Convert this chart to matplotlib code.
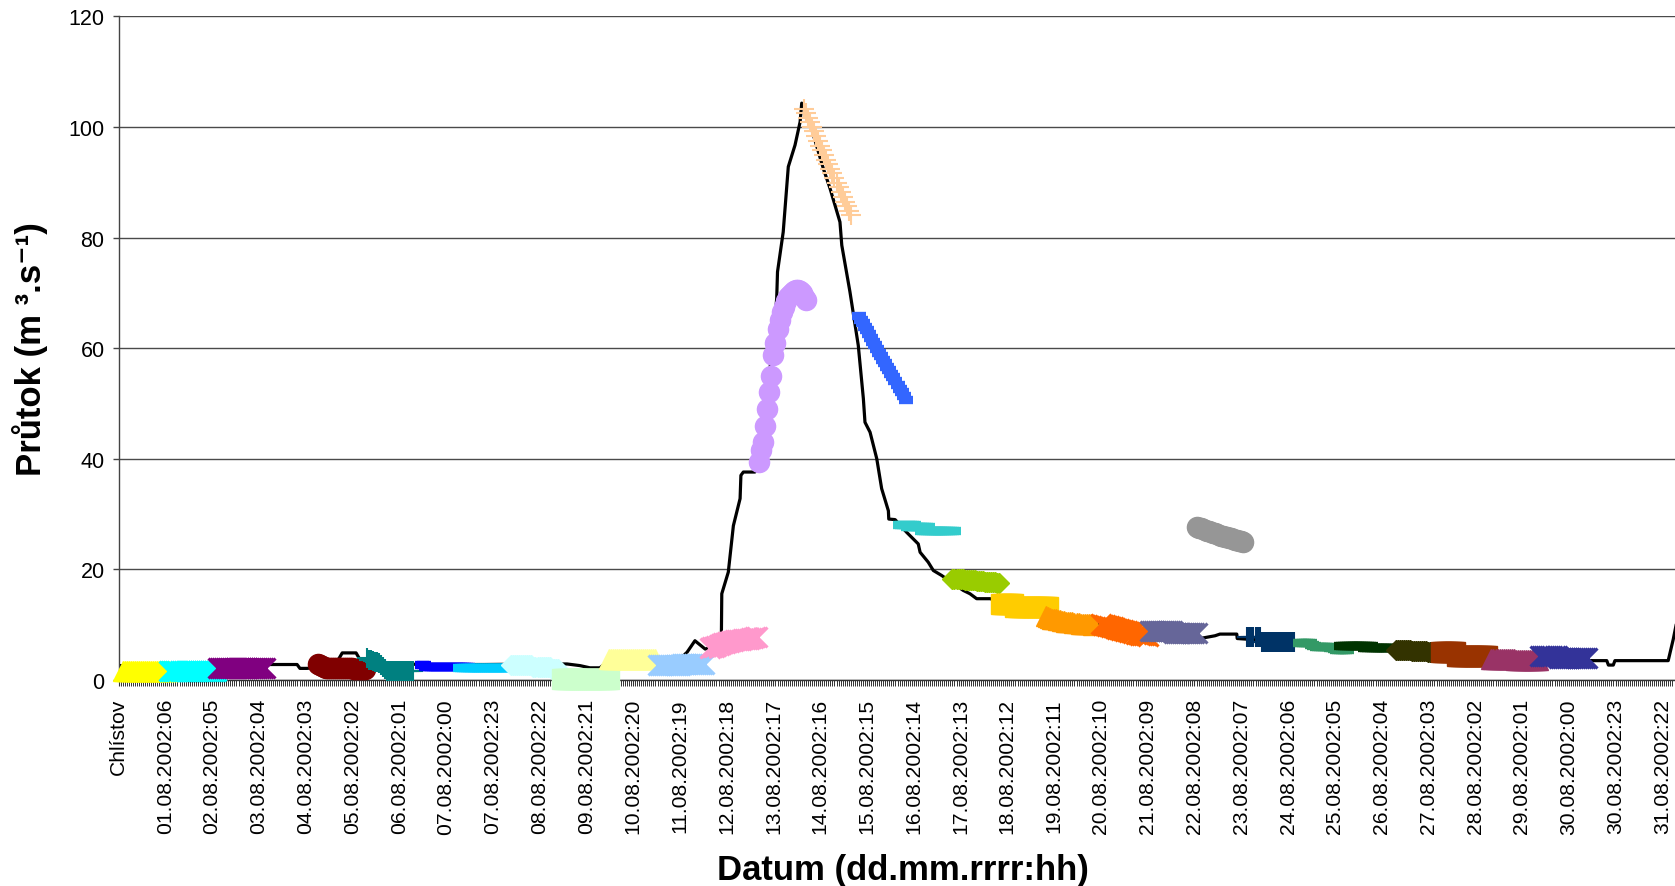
import numpy as np
import matplotlib
matplotlib.use("Agg")
import matplotlib.pyplot as plt

plt.rcParams['font.family'] = ['Liberation Sans', 'DejaVu Sans']

# ---------------- data ----------------
tick_labels = ["Chlístov", "01.08.2002:06", "02.08.2002:05", "03.08.2002:04", "04.08.2002:03",
               "05.08.2002:02", "06.08.2002:01", "07.08.2002:00", "07.08.2002:23", "08.08.2002:22",
               "09.08.2002:21", "10.08.2002:20", "11.08.2002:19", "12.08.2002:18", "13.08.2002:17",
               "14.08.2002:16", "15.08.2002:15", "16.08.2002:14", "17.08.2002:13", "18.08.2002:12",
               "19.08.2002:11", "20.08.2002:10", "21.08.2002:09", "22.08.2002:08", "23.08.2002:07",
               "24.08.2002:06", "25.08.2002:05", "26.08.2002:04", "27.08.2002:03", "28.08.2002:02",
               "29.08.2002:01", "30.08.2002:00", "30.08.2002:23", "31.08.2002:22"]
label_step = 23          # one label every 23 hourly categories
n_categories = 771

# observed discharge (category index, value)
obs_hour = [1, 20, 40, 60, 76.0, 87.8, 89.2, 92.7, 100, 107, 110.0, 116.8, 119, 130, 150, 180, 210,
            220.5, 226.9, 231.8, 236.7, 239.2, 250, 265, 275, 279.5, 283.4, 288.4, 293, 296.4, 296.6,
            299.8, 302.3, 305.6, 306.0, 307.2, 312.9, 316, 319, 322, 323.6, 324.0, 326.8, 329.3,
            332.6, 335.1, 335.9, 338.3, 346.5, 349.8, 354.7, 355.6, 359.6, 363.7, 366.2, 367.0,
            369.5, 372.8, 375.2, 378.5, 378.7, 381.8, 387.5, 393.2, 394.1, 398.1, 400.6, 404.7,
            415.3, 418.6, 421.9, 428.5, 445, 465, 485, 505, 520, 531.7, 539.1, 541.5, 549.8, 550.0,
            570, 600, 630, 660, 690, 715, 725.1, 731.7, 732.5, 734.9, 735.7, 761.9, 764.4, 768]
obs_flow = [2.6, 2.6, 2.8, 2.8, 2.8, 2.8, 2.1, 2.1, 2.4, 3.0, 4.9, 4.9, 3.5, 3.0, 2.8, 2.8, 2.9,
            2.9, 2.6, 2.2, 2.2, 3.0, 3.8, 3.6, 3.5, 5.0, 7.1, 5.6, 6.0, 8.0, 15.6,
            19.5, 27.9, 32.8, 37.0, 37.6, 37.6, 42.0, 52.0, 62.0, 69.0, 73.8, 81.0, 92.8,
            96.7, 100.9, 104.3, 102.7, 92.5, 88.9, 82.8, 78.6, 70.2, 60.5, 50.9, 46.6,
            44.8, 40.0, 34.6, 30.6, 29.1, 29.0, 26.7, 24.6, 23.1, 21.3, 19.8, 18.9,
            16.2, 15.6, 14.7, 14.7, 13.0, 11.2, 9.8, 8.8, 8.0, 7.5, 8.0, 8.3, 8.3, 7.5,
            7.0, 6.0, 5.3, 4.7, 4.0, 3.6, 3.5, 3.5, 2.7, 2.7, 3.5, 3.5, 7.4, 14.0]

# forecasts: start category and hourly values
fc_starts = [2, 25, 49, 98, 122, 149, 170, 193, 218, 241, 265, 291, 315, 337, 364, 386, 410,
             434, 456, 483, 507, 530, 555, 581, 603, 628, 650, 675, 699]
fc_colors = ["#FFFF00", "#00FFFF", "#800080", "#800000", "#008080", "#0000FF", "#00CCFF",
             "#CCFFFF", "#CCFFCC", "#FFFF99", "#99CCFF", "#FF99CC", "#CC99FF", "#FFCC99",
             "#3366FF", "#33CCCC", "#99CC00", "#FFCC00", "#FF9900", "#FF6600", "#666699",
             "#969696", "#003366", "#339966", "#003300", "#333300", "#993300", "#993366",
             "#333399"]
fc_markers = ["triangle", "x", "star", "circle", "plus", "bar", "longbar", "diamond", "square",
              "triangle", "x", "star", "circle", "plus", "bar", "longbar", "diamond", "square",
              "triangle", "x", "star", "circle", "plus", "bar", "longbar", "diamond", "square",
              "triangle", "x"]

fc01 = [1.6, 1.6, 1.6, 1.6, 1.6, 1.6, 1.6, 1.6, 1.6, 1.6, 1.6, 1.6, 1.6, 1.6, 1.6, 1.6, 1.6, 1.6, 1.6, 1.6, 1.6, 1.6, 1.6, 1.6]
fc02 = [1.6, 1.6, 1.6, 1.6, 1.6, 1.6, 1.6, 1.6, 1.6, 1.6, 1.6, 1.6, 1.6, 1.6, 1.6, 1.6, 1.6, 1.6, 1.6, 1.6, 1.6, 1.6, 1.6, 1.6]
fc03 = [2.1, 2.1, 2.1, 2.1, 2.1, 2.1, 2.1, 2.1, 2.1, 2.1, 2.1, 2.1, 2.1, 2.1, 2.1, 2.1, 2.1, 2.1, 2.1, 2.1, 2.1, 2.1, 2.1, 2.1]
fc04 = [2.9, 2.7, 2.5, 2.3, 2.2, 2.1, 2.1, 2.1, 2.1, 2.2, 2.2, 2.2, 2.2, 2.2, 2.2, 2.1, 2.1, 2.1, 2.0, 2.0, 2.0, 2.0, 2.0, 2.0]
fc05 = [3.9, 3.7, 3.6, 3.5, 3.3, 3.2, 3.0, 2.8, 2.4, 2.0, 1.7, 1.6, 1.6, 1.6, 1.6, 1.6, 1.6, 1.6, 1.6, 1.6, 1.6, 1.6, 1.6, 1.6]
fc06 = [2.8, 2.8, 2.3, 2.3, 2.3, 2.3, 2.3, 2.3, 2.3, 2.3, 2.3, 2.3, 2.3, 2.3, 2.3, 2.3, 2.3, 2.3, 2.3, 2.3, 2.3, 2.3, 2.3, 2.3]
fc07 = [2.2, 2.2, 2.2, 2.2, 2.2, 2.2, 2.2, 2.2, 2.2, 2.2, 2.2, 2.2, 2.2, 2.2, 2.2, 2.2, 2.2, 2.2, 2.2, 2.2, 2.2, 2.2, 2.2, 2.2]
fc08 = [2.7, 2.7, 2.7, 2.7, 2.7, 2.7, 2.7, 2.7, 2.7, 2.7, 2.7, 2.3, 2.3, 2.3, 2.3, 2.3, 2.3, 2.3, 2.3, 2.3, 2.0, 2.0, 2.0, 2.0]
fc09 = [0.1, 0.1, 0.1, 0.1, 0.1, 0.1, 0.1, 0.1, 0.1, 0.1, 0.1, 0.1, 0.1, 0.1, 0.1, 0.1, 0.1, 0.1, 0.1, 0.1, 0.1, 0.1, 0.1, 0.1]
fc10 = [3.8, 3.8, 3.8, 3.8, 3.8, 3.8, 3.8, 3.8, 3.8, 3.8, 3.8, 3.8, 3.8, 3.8, 3.8, 3.8, 3.8, 3.8, 3.8, 3.8, 3.8, 3.8, 3.8, 3.8]
fc11 = [2.8, 2.8, 2.8, 2.8, 2.8, 2.8, 2.8, 2.8, 2.8, 2.8, 2.8, 2.8, 2.9, 2.9, 2.9, 2.9, 2.9, 2.9, 2.9, 2.9, 2.9, 2.9, 2.9, 2.9]
fc12 = [5.7, 5.9, 6.0, 6.2, 6.3, 6.5, 6.6, 6.7, 6.8, 6.9, 7.0, 7.1, 7.2, 7.2, 7.3, 7.3, 7.4, 7.4, 7.5, 7.5, 7.6, 7.6, 7.7, 7.7]
fc13 = [39.4, 41.5, 43.0, 46.0, 49.0, 52.0, 55.0, 58.7, 61.0, 63.5, 65.0, 66.5, 67.5, 68.5, 69.2, 69.6, 70.0, 70.3, 70.5, 70.5, 70.4, 70.0, 69.3, 68.7]
fc14 = [103.3, 102.6, 101.7, 100.9, 100.0, 99.2, 98.3, 97.5, 96.6, 95.8, 94.9, 94.1, 93.3, 92.4, 91.6, 90.7, 89.9, 89.1, 88.2, 87.4, 86.5, 85.7, 84.8, 84.0]
fc15 = [65.8, 65.1, 64.5, 63.8, 63.2, 62.5, 61.9, 61.2, 60.5, 59.9, 59.2, 58.6, 57.9, 57.3, 56.6, 56.0, 55.3, 54.7, 54.0, 53.4, 52.7, 52.0, 51.4, 50.7]
fc16 = [28.1, 28.1, 28.1, 28.1, 27.6, 27.6, 27.6, 27.6, 27.6, 27.6, 27.6, 27.0, 27.0, 27.0, 27.0, 27.0, 27.0, 27.0, 27.0, 27.0, 27.0, 27.0, 27.0, 27.0]
fc17 = [18.3, 18.3, 18.2, 18.2, 18.2, 18.2, 18.1, 18.1, 18.1, 18.0, 18.0, 18.0, 17.9, 17.9, 17.9, 17.9, 17.8, 17.8, 17.8, 17.7, 17.7, 17.7, 17.6, 17.6]
fc18 = [13.8, 13.8, 13.8, 13.8, 13.8, 13.8, 13.8, 13.2, 13.2, 13.2, 13.2, 13.2, 13.2, 13.2, 13.2, 13.2, 13.2, 13.2, 13.2, 13.2, 13.2, 13.2, 13.2, 13.2]
fc19 = [11.6, 11.4, 11.2, 11.0, 11.0, 11.0, 10.9, 10.8, 10.7, 10.6, 10.5, 10.5, 10.4, 10.4, 10.3, 10.3, 10.3, 10.2, 10.2, 10.2, 10.1, 10.1, 10.1, 10.0]
fc20 = [10.1, 10.0, 9.9, 9.8, 9.7, 9.6, 9.5, 9.4, 9.3, 9.2, 9.1, 9.0, 8.9, 8.8, 8.7, 8.6, 8.5, 8.4, 8.3, 8.2, 8.2, 8.1, 8.1, 8.0]
fc21 = [8.8, 8.8, 8.8, 8.8, 8.8, 8.8, 8.8, 8.8, 8.8, 8.8, 8.8, 8.8, 8.5, 8.5, 8.5, 8.5, 8.5, 8.5, 8.5, 8.5, 8.5, 8.5, 8.5, 8.5]
fc22 = [27.6, 27.5, 27.4, 27.3, 27.2, 27.0, 26.9, 26.8, 26.6, 26.5, 26.4, 26.3, 26.1, 26.0, 25.9, 25.8, 25.7, 25.6, 25.5, 25.4, 25.3, 25.2, 25.1, 25.0]
fc23 = [7.7, 7.7, 7.7, 7.7, 7.7, 7.7, 7.7, 6.9, 6.9, 6.9, 6.9, 6.9, 6.9, 6.9, 6.9, 6.9, 6.9, 6.9, 6.9, 6.9, 6.9, 6.9, 6.9, 6.9]
fc24 = [6.7, 6.7, 6.7, 6.7, 6.7, 6.7, 6.3, 6.1, 6.0, 6.0, 6.0, 6.0, 6.0, 6.0, 5.9, 5.8, 5.7, 5.6, 5.5, 5.5, 5.4, 5.4, 5.4, 5.4]
fc25 = [6.1, 6.1, 6.1, 6.1, 6.1, 6.1, 6.1, 6.1, 6.1, 6.1, 6.1, 6.1, 5.7, 5.7, 5.7, 5.7, 5.7, 5.7, 5.7, 5.7, 5.7, 5.7, 5.7, 5.7]
fc26 = [5.4, 5.4, 5.4, 5.4, 5.4, 5.4, 5.4, 5.4, 5.3, 5.3, 5.3, 5.3, 5.3, 5.3, 5.3, 5.3, 5.1, 5.1, 5.1, 5.1, 5.1, 5.1, 5.1, 5.1]
fc27 = [5.0, 5.0, 5.0, 5.0, 5.0, 5.0, 5.0, 5.0, 4.3, 4.3, 4.3, 4.3, 4.3, 4.3, 4.3, 4.3, 4.3, 4.3, 4.3, 4.3, 4.3, 4.3, 4.3, 4.3]
fc28 = [3.8, 3.8, 3.8, 3.8, 3.8, 3.8, 3.8, 3.8, 3.8, 3.8, 3.8, 3.8, 3.7, 3.7, 3.7, 3.7, 3.7, 3.7, 3.7, 3.7, 3.7, 3.7, 3.7, 3.7]
fc29 = [4.4, 4.4, 4.4, 4.4, 4.4, 4.4, 4.4, 4.4, 4.4, 3.9, 3.9, 3.9, 3.9, 3.9, 3.9, 3.9, 3.9, 3.9, 3.9, 3.9, 3.9, 3.9, 3.9, 3.9]

forecasts = [fc01, fc02, fc03, fc04, fc05, fc06, fc07, fc08, fc09, fc10, fc11, fc12, fc13, fc14,
             fc15, fc16, fc17, fc18, fc19, fc20, fc21, fc22, fc23, fc24, fc25, fc26, fc27, fc28, fc29]

y_ticks = [0, 20, 40, 60, 80, 100, 120]

# ---------------- styling ----------------
W, H = 1675, 887
fig = plt.figure(figsize=(W / 100, H / 100), dpi=100)
ax_left, ax_bottom_px, ax_top_px = 118.5, 681.0, 17.3
px_per_cat = 2.034
ax = fig.add_axes([ax_left / W, (H - ax_bottom_px) / H,
                   n_categories * px_per_cat / W, (ax_bottom_px - ax_top_px) / H])
ax.set_xlim(0, n_categories)
ax.set_ylim(0, 120)

marker_styles = {
    "triangle": [dict(marker="^", ms=14.5, mew=1.0, filled=True)],
    "square":   [dict(marker="s", ms=14.5, mew=1.0, filled=True)],
    "circle":   [dict(marker="o", ms=14.5, mew=1.0, filled=True)],
    "diamond":  [dict(marker="D", ms=10.2, mew=1.0, filled=True)],
    "x":        [dict(marker="x", ms=14.5, mew=2.2, filled=False)],
    "star":     [dict(marker="x", ms=14.5, mew=2.2, filled=False),
                 dict(marker="|", ms=14.5, mew=2.2, filled=False)],
    "plus":     [dict(marker="+", ms=14.5, mew=1.5, filled=False)],
    "bar":      [dict(marker="_", ms=9.5, mew=6.0, filled=False)],
    "longbar":  [dict(marker="_", ms=16.5, mew=6.0, filled=False)],
}

# observed line
ax.plot(obs_hour, obs_flow, color="black", lw=2.3, zorder=2, solid_joinstyle="round")

# forecasts
for k, (start, vals, col, mk) in enumerate(zip(fc_starts, forecasts, fc_colors, fc_markers)):
    xs = start + np.arange(len(vals))
    for st in marker_styles[mk]:
        kw = dict(ls="none", marker=st["marker"], ms=st["ms"], mew=st["mew"],
                  mec=col, clip_on=False, zorder=3 + k * 0.01)
        if st["filled"]:
            kw["mfc"] = col
        ax.plot(xs, vals, **kw)

# grid
ax.set_axisbelow(True)
ax.yaxis.grid(True, color="#4a4a4a", lw=1.0)
ax.xaxis.grid(False)

# spines
for s in ["top", "right"]:
    ax.spines[s].set_visible(False)
ax.spines["left"].set_color("#444444")
ax.spines["bottom"].set_color("#333333")
ax.spines["left"].set_linewidth(1.0)
ax.spines["bottom"].set_linewidth(1.0)

# y ticks
ax.set_yticks(y_ticks)
ax.set_yticklabels([str(v) for v in y_ticks])
ax.tick_params(axis="y", direction="out", length=4, width=1, color="#444444",
               labelsize=15.5, pad=6)

# x ticks
tick_pos = np.arange(len(tick_labels)) * label_step
ax.set_xticks(tick_pos)
ax.set_xticklabels(tick_labels, rotation=90, ha="center", va="top")
ax.set_xticks(np.arange(0, n_categories + 1), minor=True)
ax.tick_params(axis="x", which="major", direction="out", length=4, width=0.8, color="#333333",
               labelsize=15.2, pad=9)
ax.tick_params(axis="x", which="minor", direction="out", length=4, width=0.7, color="#333333")

# axis labels
ax.set_xlabel("Datum (dd.mm.rrrr:hh)", fontsize=25, fontweight="bold")
ax.xaxis.set_label_coords(0.5, -(871 - ax_bottom_px) / (ax_bottom_px - ax_top_px))
ax.xaxis.label.set_va("center")
ax.set_ylabel("Průtok (m ³.s⁻¹)", fontsize=25, fontweight="bold")
ax.yaxis.set_label_coords(-(ax_left - 30) / (n_categories * px_per_cat), 0.5)
ax.yaxis.label.set_va("center")

fig.savefig("out.png", dpi=100)
